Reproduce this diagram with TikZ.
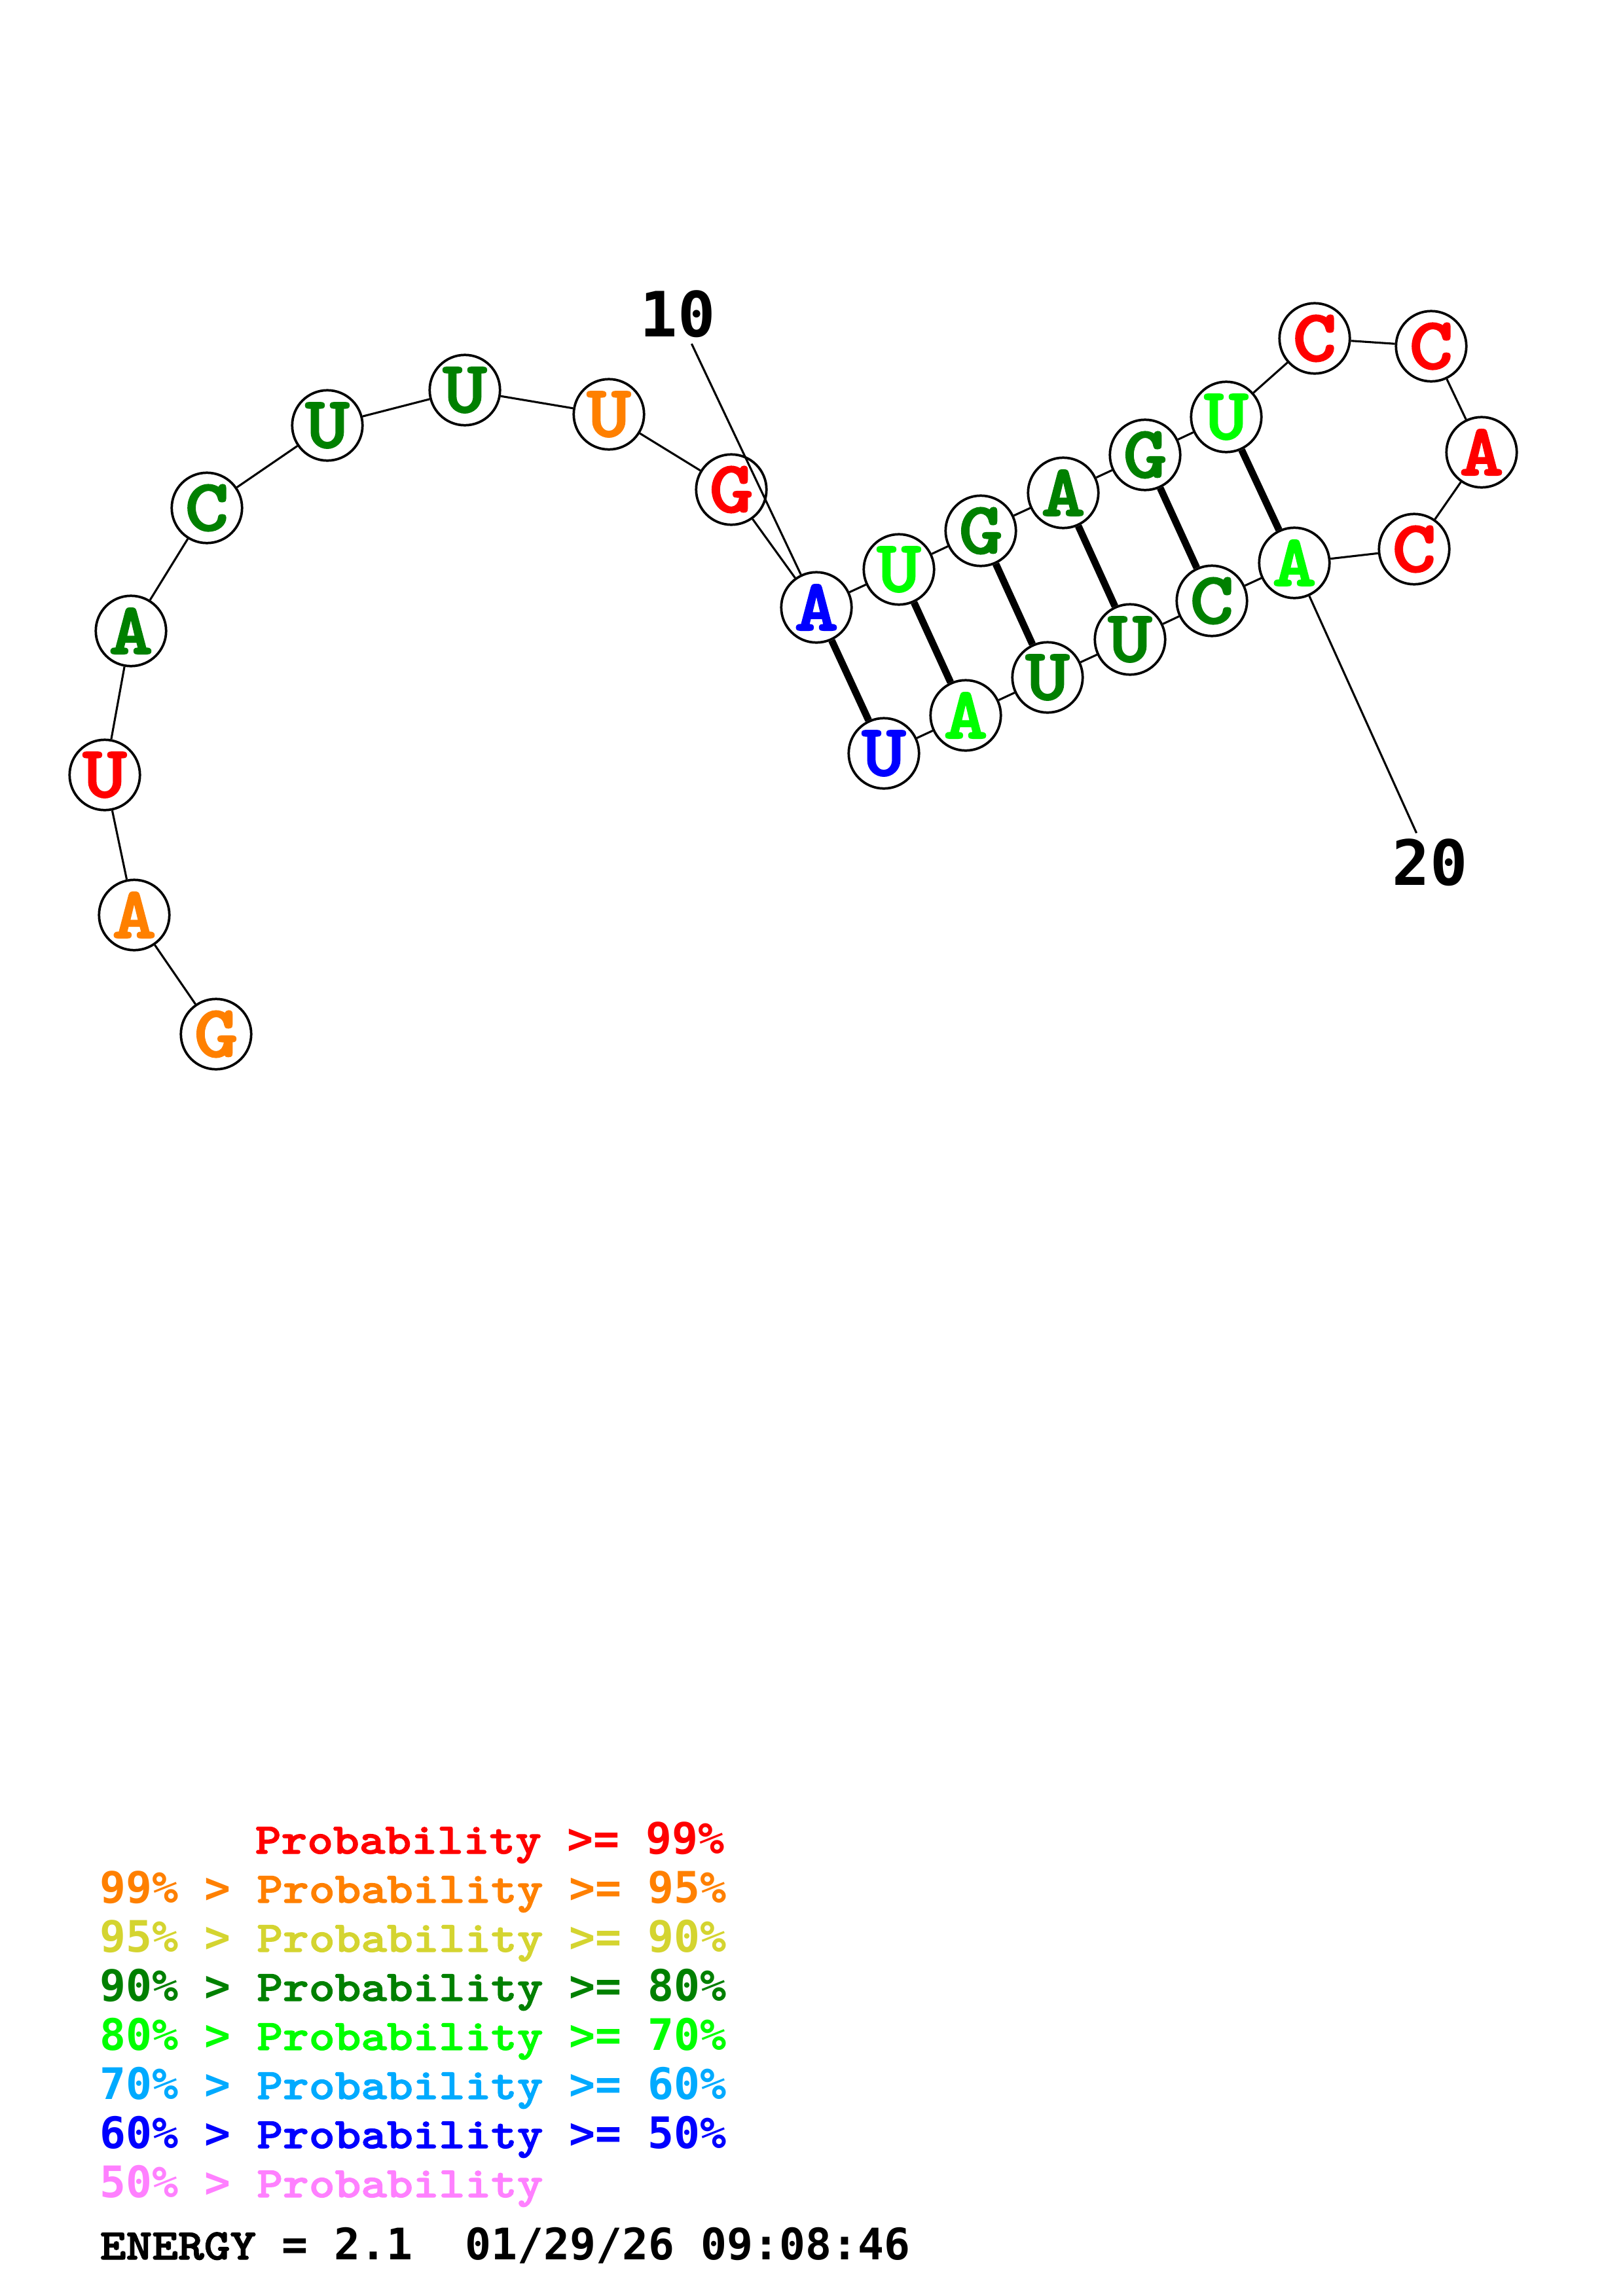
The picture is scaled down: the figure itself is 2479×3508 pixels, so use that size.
\documentclass[tikz,border=0pt]{standalone}
\usepackage{fontspec}
\usepackage{xcolor}
\usetikzlibrary{positioning}
\newfontfamily\courfont{lmmonolt10-bold}[Extension=.otf, FakeStretch=1.14, FakeBold=2]
\newfontfamily\dejamono{DejaVu Sans Mono}
\newcommand{\dg}[1]{{\dejamono\bfseries #1}}
\definecolor{ProbRed}{HTML}{FF0000}
\definecolor{ProbOrange}{HTML}{FF8000}
\definecolor{ProbYellow}{HTML}{D4D430}
\definecolor{ProbDkGreen}{HTML}{008000}
\definecolor{ProbGreen}{HTML}{00FF00}
\definecolor{ProbSky}{HTML}{00AAFF}
\definecolor{ProbBlue}{HTML}{0000FF}
\definecolor{ProbPink}{HTML}{FF80FF}
\tikzset{
    % nucleotide circles
    base/.style={
        circle,
        draw=black,
        line width=0.9pt,
        fill=white,
        minimum size=9.1mm,
        inner sep=0pt,
        font=\courfont\fontsize{27}{27}\selectfont
    },
    backbone/.style={
        line width=0.75pt,
        color=black
    },
    pair/.style={
        line width=2.6pt,
        color=black
    },
    index tick/.style={
        line width=0.75pt,
        color=black
    },
    index label/.style={
        inner sep=2pt,
        font=\dejamono\bfseries\fontsize{23}{23}\selectfont
    },
    legend/.style={
        anchor=base west,
        inner sep=0pt,
        font=\courfont\fontsize{16}{16}\selectfont
    }
}
\begin{document}
\begin{tikzpicture}[x=0.0847mm, y=-0.0847mm]
        \useasboundingbox (0,0) rectangle (2479,3508);

        % Nucleotides
        \node[base, text=ProbOrange] (n1) at (330,1580) {G};
        \node[base, text=ProbOrange] (n2) at (205,1398) {A};
        \node[base, text=ProbRed] (n3) at (160,1184) {U};
        \node[base, text=ProbDkGreen] (n4) at (200,964) {A};
        \node[base, text=ProbDkGreen] (n5) at (316,776) {C};
        \node[base, text=ProbDkGreen] (n6) at (500,650) {U};
        \node[base, text=ProbDkGreen] (n7) at (710,596) {U};
        \node[base, text=ProbOrange] (n8) at (930,633) {U};
        \node[base, text=ProbRed] (n9) at (1117,748) {G};
        \node[base, text=ProbBlue] (n10) at (1247,928) {A};
        \node[base, text=ProbGreen] (n11) at (1373,870) {U};
        \node[base, text=ProbDkGreen] (n12) at (1498,811) {G};
        \node[base, text=ProbDkGreen] (n13) at (1624,753) {A};
        \node[base, text=ProbDkGreen] (n14) at (1749,695) {G};
        \node[base, text=ProbGreen] (n15) at (1873,637) {U};
        \node[base, text=ProbRed] (n16) at (2008,517) {C};
        \node[base, text=ProbRed] (n17) at (2186,529) {C};
        \node[base, text=ProbRed] (n18) at (2263,691) {A};
        \node[base, text=ProbRed] (n19) at (2160,839) {C};
        \node[base, text=ProbGreen] (n20) at (1977,860) {A};
        \node[base, text=ProbDkGreen] (n21) at (1851,918) {C};
        \node[base, text=ProbDkGreen] (n22) at (1726,977) {U};
        \node[base, text=ProbDkGreen] (n23) at (1600,1035) {U};
        \node[base, text=ProbGreen] (n24) at (1475,1093) {A};
        \node[base, text=ProbBlue] (n25) at (1350,1151) {U};

        % Backbone
        \draw[backbone] (n1) -- (n2);
        \draw[backbone] (n2) -- (n3);
        \draw[backbone] (n3) -- (n4);
        \draw[backbone] (n4) -- (n5);
        \draw[backbone] (n5) -- (n6);
        \draw[backbone] (n6) -- (n7);
        \draw[backbone] (n7) -- (n8);
        \draw[backbone] (n8) -- (n9);
        \draw[backbone] (n9) -- (n10);
        \draw[backbone] (n10) -- (n11);
        \draw[backbone] (n11) -- (n12);
        \draw[backbone] (n12) -- (n13);
        \draw[backbone] (n13) -- (n14);
        \draw[backbone] (n14) -- (n15);
        \draw[backbone] (n15) -- (n16);
        \draw[backbone] (n16) -- (n17);
        \draw[backbone] (n17) -- (n18);
        \draw[backbone] (n18) -- (n19);
        \draw[backbone] (n19) -- (n20);
        \draw[backbone] (n20) -- (n21);
        \draw[backbone] (n21) -- (n22);
        \draw[backbone] (n22) -- (n23);
        \draw[backbone] (n23) -- (n24);
        \draw[backbone] (n24) -- (n25);

        % Base pairs
        \draw[pair] (n10) -- (n25);
        \draw[pair] (n11) -- (n24);
        \draw[pair] (n12) -- (n23);
        \draw[pair] (n13) -- (n22);
        \draw[pair] (n14) -- (n21);
        \draw[pair] (n15) -- (n20);

        % Index labels
        \node[index label] (lab10) at (1035,480) {10};
        \node[index label] (lab20) at (2184,1318) {20};
        \draw[index tick] (lab10) -- (n10);
        \draw[index tick] (lab20) -- (n20);

        % Legend
        \node[legend, text=ProbRed] (leg1) at (389,2832) {Probability \dg{>= 99\%}};
        \node[legend, text=ProbOrange] (leg2) at (152,2907) {\dg{99\% >} Probability \dg{>= 95\%}};
        \node[legend, text=ProbYellow] (leg3) at (152,2982) {\dg{95\% >} Probability \dg{>= 90\%}};
        \node[legend, text=ProbDkGreen] (leg4) at (152,3057) {\dg{90\% >} Probability \dg{>= 80\%}};
        \node[legend, text=ProbGreen] (leg5) at (152,3132) {\dg{80\% >} Probability \dg{>= 70\%}};
        \node[legend, text=ProbSky] (leg6) at (152,3207) {\dg{70\% >} Probability \dg{>= 60\%}};
        \node[legend, text=ProbBlue] (leg7) at (152,3282) {\dg{60\% >} Probability \dg{>= 50\%}};
        \node[legend, text=ProbPink] (leg8) at (152,3357) {\dg{50\% >} Probability};
        \node[legend, text=black] (energy) at (152,3452) {ENERGY \dg{= 2.1\ \ 01/29/26 09:08:46}};
    \end{tikzpicture}
\end{document}
